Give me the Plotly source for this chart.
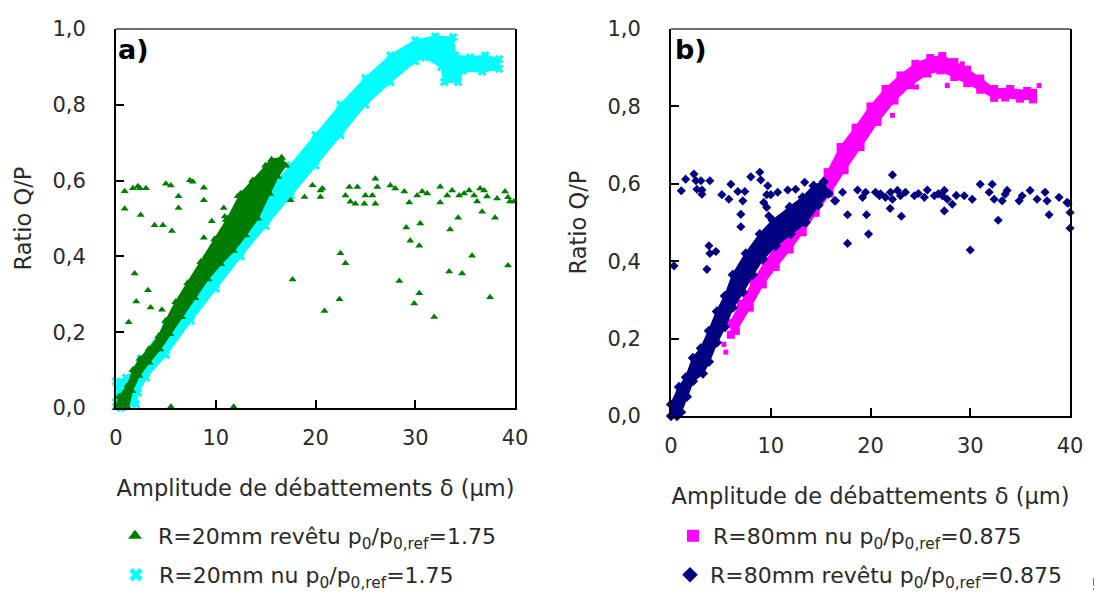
import plotly.graph_objects as go

# ---------------- Panel a) : R=20mm ----------------
# dense cloud of "revêtu" points (envelope)
green_band_upper_x = [0.0, 0.3, 1.2, 1.7, 2.4, 3.3, 4.3, 5.0, 6.0, 7.2, 8.5, 9.9, 11.2, 12.5, 13.7, 15.0, 15.6, 16.6]
green_band_upper_y = [0.0, 0.03, 0.06, 0.10, 0.13, 0.155, 0.19, 0.23, 0.28, 0.33, 0.385, 0.445, 0.50, 0.565, 0.60, 0.64, 0.655, 0.66]
green_band_lower_x = [17.0, 16.2, 15.4, 14.2, 13.0, 11.8, 10.5, 9.2, 7.9, 6.6, 5.4, 4.4, 3.3, 2.3, 1.6, 1.2]
green_band_lower_y = [0.64, 0.61, 0.565, 0.50, 0.456, 0.415, 0.38, 0.34, 0.29, 0.24, 0.195, 0.155, 0.12, 0.085, 0.045, 0.0]
# scattered "revêtu" points
green_pts_x = [0.87, 1.7, 2.4, 3.0, 2.2, 0.87, 2.47, 3.87, 4.7, 5.6, 5.0, 5.5, 6.27, 6.27, 7.4, 7.7, 8.8, 8.8,
               8.8, 9.6, 10.8, 11.0, 12.2, 10.9, 1.87, 3.2, 2.03, 3.47, 4.6, 1.27, 5.5, 11.8, 0.3,
               17.5, 18.9, 19.7, 20.5, 20.7, 20.5, 23.4, 24.2, 23.0, 23.5, 24.0, 25.0, 24.9, 25.7, 26.0, 26.2, 26.0,
               27.5, 28.0, 28.9, 29.4, 30.2, 30.7, 31.2, 32.5, 32.5, 33.2, 33.7, 34.4, 34.9, 35.4, 35.9, 36.2,
               36.5, 36.9, 37.2, 38.2, 39.0, 39.3, 39.5, 39.9,
               17.7, 20.9, 22.4, 22.5, 23.0, 28.4, 29.1, 30.5, 29.5, 30.4, 29.9, 30.4, 31.9, 33.4, 34.7,
               33.5, 34.3, 35.7, 36.7, 38.0, 37.5, 39.3]
green_pts_y = [0.572, 0.58, 0.58, 0.58, 0.585, 0.526, 0.509, 0.482, 0.482, 0.467, 0.592, 0.587, 0.559, 0.528, 0.601, 0.597, 0.581, 0.548,
               0.449, 0.493, 0.528, 0.496, 0.559, 0.505, 0.355, 0.311, 0.281, 0.265, 0.259, 0.226, 0.003, 0.003, 0.003,
               0.548, 0.557, 0.588, 0.574, 0.579, 0.557, 0.583, 0.583, 0.561, 0.544, 0.539, 0.561, 0.539, 0.561, 0.605, 0.583, 0.539,
               0.587, 0.579, 0.571, 0.542, 0.561, 0.571, 0.566, 0.584, 0.542, 0.561, 0.574, 0.561, 0.566, 0.574, 0.561, 0.545,
               0.579, 0.574, 0.558, 0.553, 0.571, 0.556, 0.545, 0.545,
               0.339, 0.256, 0.287, 0.408, 0.382, 0.335, 0.476, 0.487, 0.441, 0.428, 0.276, 0.303, 0.24, 0.36, 0.355,
               0.471, 0.502, 0.402, 0.518, 0.502, 0.292, 0.376]

# dense cloud of "nu" points (envelope)
cyan_band_upper_x = [0.0, 0.0, 1.0, 2.0, 2.5, 5.0, 7.5, 10.0, 12.5, 15.0, 17.5, 20.0, 22.5, 25.0, 27.5, 30.0, 32.0, 33.8,
                     34.0, 35.5, 37.0, 38.4]
cyan_band_upper_y = [0.015, 0.07, 0.08, 0.10, 0.13, 0.22, 0.31, 0.395, 0.48, 0.56, 0.64, 0.72, 0.80, 0.87, 0.93, 0.97, 0.98, 0.978,
                     0.93, 0.925, 0.93, 0.92]
cyan_band_lower_x = [38.4, 36.7, 34.8, 34.3, 32.9, 32.6, 31.0, 30.0, 27.5, 25.0, 22.5, 20.0, 17.5, 15.0, 12.5, 10.0, 7.5, 5.0,
                     3.0, 2.2, 2.0, 0.5]
cyan_band_lower_y = [0.895, 0.888, 0.89, 0.86, 0.86, 0.90, 0.925, 0.915, 0.86, 0.80, 0.72, 0.64, 0.56, 0.48, 0.40, 0.315, 0.23, 0.14,
                     0.08, 0.04, 0.01, 0.0]
cyan_pts_x = [0.3, 0.8, 1.3, 1.8, 0.5, 1.1]
cyan_pts_y = [0.03, 0.05, 0.04, 0.06, 0.06, 0.02]

# ---------------- Panel b) : R=80mm ----------------
magenta_band_upper_x = [5.9, 7.0, 8.3, 9.5, 10.8, 12.0, 13.3, 14.5, 15.7, 17.0, 18.5, 20.0, 21.5, 23.0, 24.5, 26.0, 27.2,
                        28.4, 29.7, 31.0, 32.4, 34.0, 35.7, 36.3]
magenta_band_upper_y = [0.24, 0.29, 0.35, 0.40, 0.445, 0.49, 0.535, 0.585, 0.63, 0.695, 0.745, 0.80, 0.845, 0.88, 0.91, 0.925, 0.93,
                        0.915, 0.895, 0.872, 0.845, 0.845, 0.84, 0.835]
magenta_band_lower_x = [36.3, 35.0, 33.5, 32.4, 31.0, 29.7, 28.4, 27.0, 25.7, 24.0, 22.4, 20.7, 19.0, 17.4, 15.9, 14.5, 13.2,
                        11.9, 10.5, 9.2, 7.9, 6.5, 6.0]
magenta_band_lower_y = [0.818, 0.82, 0.823, 0.822, 0.843, 0.86, 0.876, 0.893, 0.885, 0.855, 0.815, 0.76, 0.695, 0.635, 0.575, 0.525, 0.475,
                        0.43, 0.385, 0.34, 0.28, 0.22, 0.21]
magenta_pts_x = [1.5, 2.0, 5.3, 5.5, 22.2, 24.6, 27.7, 29.2, 36.9]
magenta_pts_y = [0.06, 0.09, 0.185, 0.165, 0.777, 0.85, 0.854, 0.91, 0.854]

navy_band_upper_x = [0.0, 0.0, 0.8, 1.5, 2.2, 3.0, 3.8, 4.6, 5.4, 6.2, 7.5, 8.9, 10.2, 11.9, 13.2, 14.3, 15.3]
navy_band_upper_y = [0.0, 0.03, 0.075, 0.10, 0.15, 0.175, 0.22, 0.27, 0.31, 0.365, 0.42, 0.47, 0.505, 0.54, 0.565, 0.595, 0.605]
navy_band_lower_x = [15.8, 14.8, 13.5, 12.0, 10.5, 9.2, 8.2, 7.2, 6.2, 5.4, 4.6, 3.8, 3.2, 2.2, 1.6, 1.0, 0.6]
navy_band_lower_y = [0.575, 0.545, 0.50, 0.47, 0.44, 0.405, 0.365, 0.32, 0.28, 0.23, 0.19, 0.14, 0.11, 0.09, 0.05, 0.01, 0.0]
navy_pts_x = [1.47, 1.03, 2.3, 2.5, 3.0, 2.6, 3.1, 3.1, 3.9, 0.3, 3.8, 4.5, 3.9, 3.6, 5.1, 5.8, 6.0, 6.7, 7.2, 7.4,
              7.0, 7.0, 8.0, 8.9, 9.0, 9.7, 9.6, 10.0, 9.3, 9.6, 10.7, 11.7, 12.5, 13.4, 9.8,
              16.4, 17.2, 18.7, 19.2, 19.5, 20.5, 20.9, 21.0, 21.5, 22.0, 22.2, 22.7, 23.0, 23.5, 24.4, 24.8, 25.4, 25.7,
              26.4, 26.8, 27.2, 27.4, 27.7, 28.2, 28.6, 29.4, 30.2, 31.0, 31.9, 32.2, 32.4, 33.2, 33.5, 33.7, 34.9, 35.2,
              36.0, 36.7, 37.5, 37.7, 38.9, 39.7,
              22.2, 21.97, 23.1, 17.7, 19.6, 17.7, 19.8, 27.4, 30.0, 32.8, 37.9, 40.0, 40.0, 39.8, 16.5]
navy_pts_y = [0.612, 0.582, 0.625, 0.608, 0.608, 0.586, 0.584, 0.573, 0.608, 0.388, 0.44, 0.425, 0.42, 0.379, 0.572, 0.56, 0.599, 0.58, 0.556, 0.58,
              0.489, 0.521, 0.618, 0.63, 0.61, 0.595, 0.572, 0.572, 0.552, 0.539, 0.578, 0.584, 0.586, 0.604, 0.517,
              0.556, 0.578, 0.584, 0.565, 0.578, 0.578, 0.569, 0.574, 0.565, 0.578, 0.560, 0.583, 0.569, 0.578, 0.569, 0.575, 0.565, 0.584,
              0.569, 0.574, 0.569, 0.583, 0.560, 0.547, 0.57, 0.569, 0.560, 0.599, 0.578, 0.599, 0.560, 0.556, 0.573, 0.583, 0.556, 0.569,
              0.583, 0.560, 0.578, 0.556, 0.565, 0.552,
              0.623, 0.536, 0.516, 0.52, 0.52, 0.446, 0.47, 0.53, 0.429, 0.506, 0.52, 0.526, 0.485, 0.55, 0.556]

# ---------------- texts / ticks ----------------
x_ticks = [0, 10, 20, 30, 40]
y_ticks = [0.0, 0.2, 0.4, 0.6, 0.8, 1.0]
y_tick_labels = ["0,0", "0,2", "0,4", "0,6", "0,8", "1,0"]
x_title = "Amplitude de débattements δ (µm)"
y_title = "Ratio Q/P"
name_green = "R=20mm revêtu p<sub>0</sub>/p<sub>0,ref</sub>=1.75"
name_cyan = "R=20mm nu p<sub>0</sub>/p<sub>0,ref</sub>=1.75"
name_magenta = "R=80mm nu p<sub>0</sub>/p<sub>0,ref</sub>=0.875"
name_navy = "R=80mm revêtu p<sub>0</sub>/p<sub>0,ref</sub>=0.875"

GREEN, CYAN, MAGENTA, NAVY = "#007d00", "#00ffff", "#ff00ff", "#000080"
W, H = 1102, 597
FONT = "DejaVu Sans"


def pxx(p):
    return p / W


def pyy(p):
    return 1 - p / H


fig = go.Figure()


def band(ux, uy, lx, ly, color, symbol, xa, ya, group):
    fig.add_trace(go.Scatter(
        x=ux + lx, y=uy + ly, xaxis=xa, yaxis=ya, mode="lines+markers", fill="toself",
        fillcolor=color, line=dict(color=color, width=2),
        marker=dict(color=color, symbol=symbol, size=8, line=dict(width=0)),
        showlegend=False, legendgroup=group, hoverinfo="skip", cliponaxis=False))


def pts(x, y, color, symbol, size, name, xa, ya, legend):
    fig.add_trace(go.Scatter(
        x=x, y=y, xaxis=xa, yaxis=ya, mode="markers", name=name, legend=legend,
        marker=dict(color=color, symbol=symbol, size=size, line=dict(width=0)),
        cliponaxis=False))


# panel a (cyan below green)
band(cyan_band_upper_x, cyan_band_upper_y, cyan_band_lower_x, cyan_band_lower_y, CYAN, "x", "x", "y", "cyan")
pts(cyan_pts_x, cyan_pts_y, CYAN, "x", 8, name_cyan, "x", "y", "legend2")
band(green_band_upper_x, green_band_upper_y, green_band_lower_x, green_band_lower_y, GREEN, "triangle-up", "x", "y", "green")
pts(green_pts_x, green_pts_y, GREEN, "triangle-up", 7, name_green, "x", "y", "legend")
# panel b (magenta below navy)
band(magenta_band_upper_x, magenta_band_upper_y, magenta_band_lower_x, magenta_band_lower_y, MAGENTA, "square", "x2", "y2", "mag")
pts(magenta_pts_x, magenta_pts_y, MAGENTA, "square", 5, name_magenta, "x2", "y2", "legend3")
band(navy_band_upper_x, navy_band_upper_y, navy_band_lower_x, navy_band_lower_y, NAVY, "diamond", "x2", "y2", "navy")
pts(navy_pts_x, navy_pts_y, NAVY, "diamond", 7, name_navy, "x2", "y2", "legend4")

tickfont = dict(family=FONT, size=21, color="#2a2a2a")
titlefont = dict(family=FONT, size=22.5, color="#2a2a2a")


def xaxis_cfg(domain, anchor):
    return dict(domain=domain, anchor=anchor, range=[0, 40], tickvals=x_ticks, ticks="inside",
                ticklen=8, tickwidth=2, tickcolor="black", showline=True, linecolor="black",
                linewidth=2, mirror=False, showgrid=False, zeroline=False, tickfont=tickfont,
                ticklabelstandoff=10, title=dict(text=x_title, font=titlefont, standoff=31),
                automargin=False, fixedrange=True)


def yaxis_cfg(domain, anchor):
    return dict(domain=domain, anchor=anchor, range=[0, 1], tickvals=y_ticks, ticktext=y_tick_labels,
                ticks="inside", ticklen=8, tickwidth=2, tickcolor="black", showline=True,
                linecolor="black", linewidth=2, mirror=True, showgrid=False, zeroline=False,
                tickfont=tickfont, ticklabelstandoff=24,
                title=dict(text=y_title, font=titlefont, standoff=15),
                automargin=False, fixedrange=True)


legend_common = dict(font=dict(family=FONT, size=22, color="#2a2a2a"), bgcolor="rgba(0,0,0,0)",
                     borderwidth=0, itemsizing="constant", xanchor="left", yanchor="middle",
                     xref="paper", yref="paper", itemclick=False, itemdoubleclick=False)

fig.update_layout(
    width=W, height=H, margin=dict(l=0, r=0, t=0, b=0),
    plot_bgcolor="white", paper_bgcolor="white",
    xaxis=xaxis_cfg([pxx(108), pxx(507)], "y"),
    yaxis=yaxis_cfg([pyy(400), pyy(21)], "x"),
    xaxis2=xaxis_cfg([pxx(663), pxx(1062)], "y2"),
    yaxis2=yaxis_cfg([pyy(408), pyy(21)], "x2"),
    legend=dict(x=pxx(104), y=pyy(528), itemwidth=36, **legend_common),
    legend2=dict(x=pxx(105), y=pyy(567), itemwidth=36, **legend_common),
    legend3=dict(x=pxx(665), y=pyy(528), **legend_common),
    legend4=dict(x=pxx(662), y=pyy(567), **legend_common),
    showlegend=True,
    shapes=[
        dict(type="line", xref="x domain", yref="y domain", x0=0, x1=1, y0=1, y1=1,
             line=dict(color="#6e6e6e", width=2)),
        dict(type="line", xref="x2 domain", yref="y2 domain", x0=0, x1=1, y0=1, y1=1,
             line=dict(color="#6e6e6e", width=2)),
    ],
    annotations=[
        dict(text="<b>a)</b>", x=pxx(125), y=pyy(42), xref="paper", yref="paper",
             xanchor="center", yanchor="middle",
             showarrow=False, font=dict(family=FONT, size=27, color="black")),
        dict(text="<b>b)</b>", x=pxx(683), y=pyy(42), xref="paper", yref="paper",
             xanchor="center", yanchor="middle",
             showarrow=False, font=dict(family=FONT, size=27, color="black")),
        dict(text="!", x=pxx(1086), y=pyy(576), xref="paper", yref="paper",
             xanchor="center", yanchor="middle",
             showarrow=False, font=dict(family=FONT, size=16, color="black")),
    ],
)

fig.write_html("out.html")
